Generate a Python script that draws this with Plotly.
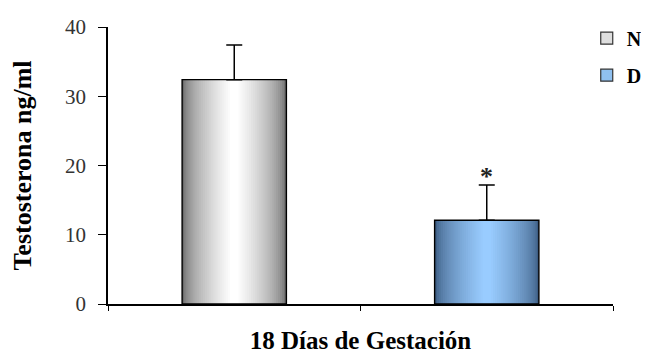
import plotly.graph_objects as go

# ---- data ----
categories = ["N", "D"]
testosterona = [32.4, 12.1]
error_sup = [5.0, 5.1]
legend_names = ["N", "D"]
y_ticks = [0, 10, 20, 30, 40]
y_title = "Testosterona ng/ml"
x_title = "18 Días de Gestación"
signif_mark = "*"

# ---- styling ----
BAR_W = 0.413
gray_edge, gray_center = (108, 108, 108), (255, 255, 255)
blue_edge, blue_center = (60, 92, 130), (153, 204, 255)
N_LAYERS = 24


def mix(a, b, t):
    return "rgb(%d,%d,%d)" % tuple(round(a[i] + (b[i] - a[i]) * t) for i in range(3))


fig = go.Figure()

# gradient layers (nested bars, outermost darkest)
for k in range(N_LAYERS):
    f = k / (N_LAYERS - 1)
    t = f ** 0.6
    w = BAR_W * (1 - 0.92 * f)
    fig.add_trace(go.Bar(
        x=categories, y=testosterona, width=w,
        marker=dict(color=[mix(gray_edge, gray_center, t), mix(blue_edge, blue_center, t)],
                    line=dict(width=0)),
        showlegend=False, hoverinfo="skip",
    ))

# outline + error bars
fig.add_trace(go.Bar(
    x=categories, y=testosterona, width=BAR_W,
    marker=dict(color="rgba(0,0,0,0)", line=dict(color="black", width=1.4)),
    error_y=dict(type="data", array=error_sup, arrayminus=[0, 0], symmetric=False,
                 color="black", thickness=1.5, width=8),
    showlegend=False,
))

# legend entries
leg_colors = ["#dedede", "#8fc0f0"]
for name, c in zip(legend_names, leg_colors):
    fig.add_trace(go.Bar(
        x=[None], y=[None], name="<b>%s</b>" % name, legendgroup=name,
        marker=dict(color=c, line=dict(color="#333333", width=1.2)),
    ))

fig.add_annotation(
    x=categories[1], y=testosterona[1] + error_sup[1], text=signif_mark,
    showarrow=False, yanchor="bottom", yshift=-8,
    font=dict(family="Liberation Serif", size=26, color="#222222", weight="bold"),
)

# page body adds an 8px offset; figure is sized to fit the 649x362 window
fig.update_layout(
    width=641, height=354,
    margin=dict(l=100, r=36, t=19, b=58, autoexpand=False),
    barmode="overlay",
    plot_bgcolor="white", paper_bgcolor="white",
    font=dict(family="Liberation Serif", color="black"),
    showlegend=True,
    legend=dict(x=0.948, xanchor="left", y=1.03, yanchor="top",
                font=dict(family="Liberation Serif", size=20, color="black"),
                tracegroupgap=8, bgcolor="rgba(0,0,0,0)", borderwidth=0),
    xaxis=dict(
        type="category", categoryorder="array", categoryarray=categories,
        range=[-0.5, 1.5], tickson="boundaries", ticks="outside", ticklen=5,
        tickcolor="black", showticklabels=False, showline=True, linecolor="black",
        linewidth=1.5, showgrid=False, zeroline=False, automargin=False,
        title=dict(text=x_title, standoff=27,
                   font=dict(family="Liberation Serif", size=25, color="black", weight="bold")),
    ),
    yaxis=dict(
        range=[0, 40], tickvals=y_ticks, ticks="outside", ticklen=8, tickcolor="black",
        showline=True, linecolor="black", linewidth=1.5, showgrid=False, zeroline=False,
        automargin=False,
        tickfont=dict(family="Liberation Serif", size=21, color="#333333"),
        ticklabelstandoff=8,
        title=dict(text=y_title, standoff=27,
                   font=dict(family="Liberation Serif", size=26, color="black", weight="bold")),
    ),
)

fig.write_html("out.html")
